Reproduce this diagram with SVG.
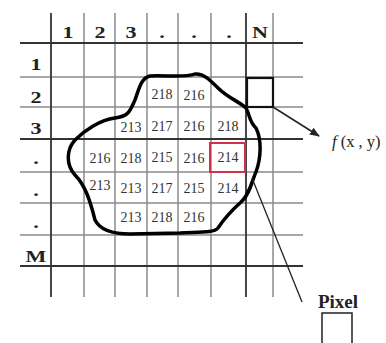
<svg xmlns="http://www.w3.org/2000/svg" width="386" height="343" viewBox="0 0 386 343">
<style>
.g{stroke:#8a8a8a;stroke-width:1.5;fill:none}
.d{stroke:#333;stroke-width:1.8;fill:none}
.hd{font-family:"Liberation Serif",serif;font-weight:bold;font-size:17px;fill:#222;text-anchor:middle}
.n{font-family:"Liberation Serif",serif;font-size:14px;fill:#333;text-anchor:middle}
</style>
<defs>
<marker id="ah" viewBox="0 0 10 10" refX="9" refY="5" markerWidth="10" markerHeight="10" orient="auto" markerUnits="userSpaceOnUse">
<path d="M0,1 L10,5 L0,9 z" fill="#222"/>
</marker>
</defs>
<rect width="386" height="343" fill="#fff"/>
<g id="grid">
<path class="g" d="M84,13V297M115,13V297M147,13V297M178,13V297M211,13V297M273,13V297"/>
<path class="g" d="M20,77H303M20,107H303M20,172H303M20,203H303M20,235H303"/>
<path class="d" d="M51,13V297M246,13V297M20,43H303M20,139H303M20,266H303"/>
</g>
<g id="headers">
<text class="hd" transform="translate(68,38) scale(1.3,1)">1</text>
<text class="hd" transform="translate(100,38) scale(1.3,1)">2</text>
<text class="hd" transform="translate(131,38) scale(1.3,1)">3</text>
<text class="hd" transform="translate(162,38) scale(1.3,1)">.</text>
<text class="hd" transform="translate(194,38) scale(1.3,1)">.</text>
<text class="hd" transform="translate(229,38) scale(1.3,1)">.</text>
<text class="hd" transform="translate(260,38) scale(1.3,1)">N</text>
<text class="hd" transform="translate(36,70) scale(1.3,1)">1</text>
<text class="hd" transform="translate(36,103) scale(1.3,1)">2</text>
<text class="hd" transform="translate(36,134) scale(1.3,1)">3</text>
<text class="hd" transform="translate(36,164) scale(1.3,1)">.</text>
<text class="hd" transform="translate(36,196) scale(1.3,1)">.</text>
<text class="hd" transform="translate(36,228) scale(1.3,1)">.</text>
<text class="hd" transform="translate(36,262) scale(1.3,1)">M</text>
</g>
<g id="values">
<text class="n" x="162" y="99">218</text>
<text class="n" x="194" y="100">216</text>
<text class="n" x="131" y="132">213</text>
<text class="n" x="162" y="131">217</text>
<text class="n" x="194" y="131">216</text>
<text class="n" x="228" y="131">218</text>
<text class="n" x="100" y="163">216</text>
<text class="n" x="131" y="163">218</text>
<text class="n" x="162" y="162">215</text>
<text class="n" x="194" y="163">216</text>
<text class="n" x="228" y="162">214</text>
<text class="n" x="100" y="190">213</text>
<text class="n" x="131" y="193">213</text>
<text class="n" x="162" y="193">217</text>
<text class="n" x="194" y="193">215</text>
<text class="n" x="228" y="193">214</text>
<text class="n" x="131" y="222">213</text>
<text class="n" x="162" y="222">218</text>
<text class="n" x="194" y="222">216</text>
</g>
<g id="pixel-highlight">
<rect x="210" y="143" width="35" height="29" fill="none" stroke="#d0304a" stroke-width="2"/>
</g>
<g id="region">
<path d="M150,76 C165,75 185,78 195,74 C203,73 210,80 218,88 C228,98 240,102 246,108 C250,115 249,122 256,128 C262,140 261,158 256,172 C252,180 250,195 240,203 C230,212 222,222 218,228 C214,233 200,232 180,233 L130,234 C112,234 100,230 95,220 C90,200 85,185 75,175 C66,165 66,150 75,140 C85,130 100,120 115,118 C130,116 130,110 135,100 C140,85 142,78 150,76 Z" fill="none" stroke="#000" stroke-width="3.5" stroke-linejoin="round"/>
</g>
<g id="fxy-box">
<rect x="247" y="78" width="26" height="29" fill="none" stroke="#111" stroke-width="2.2"/>
</g>
<g id="connectors">
<line x1="273" y1="107" x2="319" y2="136" stroke="#222" stroke-width="1.5" marker-end="url(#ah)"/>
<line x1="252" y1="178" x2="302" y2="302" stroke="#222" stroke-width="1.3"/>
</g>
<g id="fxy-label">
<text x="332" y="147" font-family="Liberation Serif,serif" font-size="16.5" fill="#222"><tspan font-style="italic">f</tspan> (x , y)</text>
</g>
<g id="pixel-label">
<text x="338" y="308" class="hd" style="font-size:19px">Pixel</text>
<rect x="322" y="313" width="30" height="32" fill="none" stroke="#222" stroke-width="1.5"/>
</g>
</svg>
